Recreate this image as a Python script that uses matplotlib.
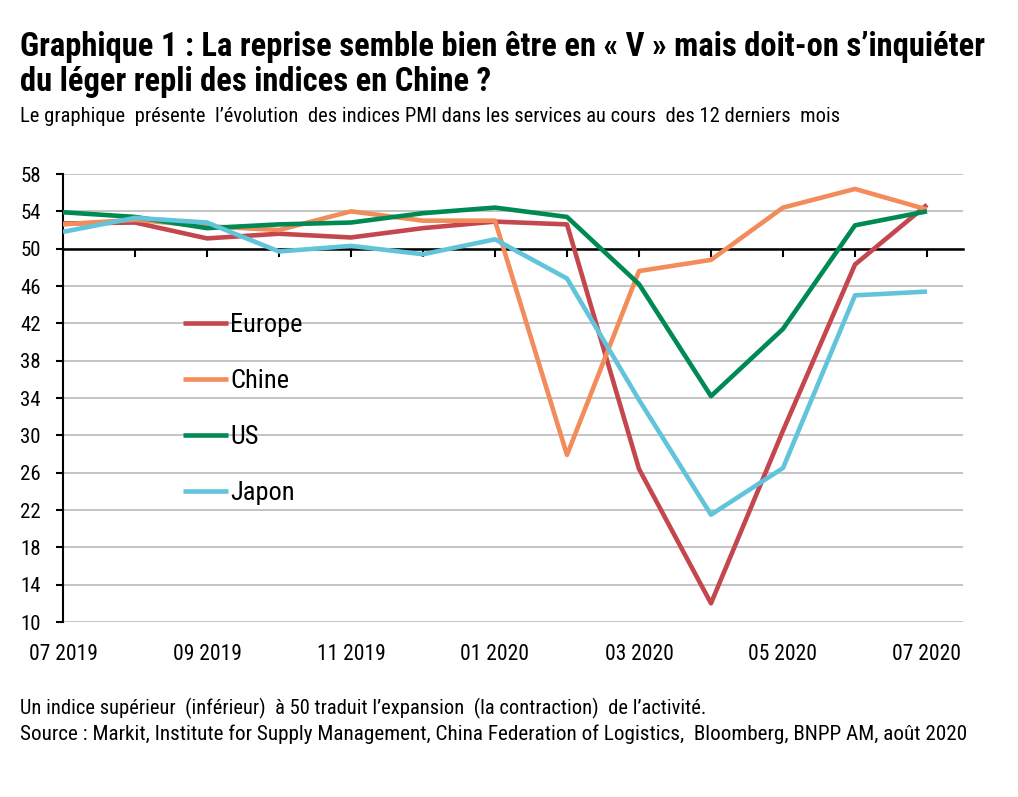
import matplotlib.pyplot as plt
import numpy as np

plt.rcParams['font.family'] = ['Roboto Condensed', 'Liberation Sans', 'DejaVu Sans']

months = ["07 2019", "08 2019", "09 2019", "10 2019", "11 2019", "12 2019", "01 2020",
          "02 2020", "03 2020", "04 2020", "05 2020", "06 2020", "07 2020"]
europe = [52.7, 52.8, 51.1, 51.6, 51.2, 52.2, 52.9, 52.6, 26.4, 12.0, 30.5, 48.3, 54.7]
chine = [52.6, 53.1, 52.4, 52.0, 54.0, 53.0, 53.0, 27.9, 47.6, 48.8, 54.4, 56.4, 54.2]
us = [53.9, 53.4, 52.2, 52.6, 52.8, 53.8, 54.4, 53.4, 46.2, 34.2, 41.4, 52.5, 54.0]
japon = [51.8, 53.3, 52.8, 49.7, 50.3, 49.4, 51.0, 46.8, 33.8, 21.5, 26.5, 45.0, 45.4]

series = {"Europe": (europe, '#C4474E'),
          "Chine": (chine, '#F28C5B'),
          "US": (us, '#008A53'),
          "Japon": (japon, '#62C4DA')}

x = np.arange(len(months))

fig = plt.figure(figsize=(10.18, 7.97), dpi=100)
ax = fig.add_axes([63/1018, 1-622/797, 900/1018, 448/797])

for name, (vals, col) in series.items():
    ax.plot(x, vals, color=col, lw=3.3, label=name, solid_capstyle='butt', zorder=3)

ax.set_xlim(0, 12.5)
ax.set_ylim(10, 58)
ax.set_yticks(np.arange(10, 59, 4))
ax.yaxis.grid(True, color='#BFBFBF', lw=1.3)
ax.set_axisbelow(True)

# l'axe des x coupe à 50
ax.spines['bottom'].set_position(('data', 50))
ax.spines['bottom'].set_linewidth(1.8)
ax.spines['left'].set_linewidth(1.5)
ax.spines['top'].set_visible(False)
ax.spines['right'].set_visible(False)
ax.set_xticks(x)
ax.set_xticklabels([])
ax.tick_params(axis='x', direction='out', length=6, width=1.5)
ax.tick_params(axis='y', direction='out', length=5, width=1.5, labelsize=15, pad=11)

for i in x[::2]:
    ax.text(i, -0.05, months[i], transform=ax.get_xaxis_transform(),
            ha='center', va='top', fontsize=15.5)

ax.legend(loc='upper left', bbox_to_anchor=(0.133, 0.690), frameon=False,
          fontsize=19, handlelength=1.7, handletextpad=0.1, labelspacing=1.22,
          borderpad=0, borderaxespad=0)

fig.text(20/1018, 1-31/797,
         "Graphique 1 : La reprise semble bien être en « V » mais doit-on s’inquiéter\n"
         "du léger repli des indices en Chine ?",
         fontsize=23.5, fontweight='bold', va='top', ha='left', linespacing=1.1)
fig.text(20/1018, 1-116/797,
         "Le graphique  présente  l’évolution  des indices PMI dans les services au cours  des 12 derniers  mois",
         fontsize=14.8, va='center', ha='left')
fig.text(20/1018, 1-708/797,
         "Un indice supérieur  (inférieur)  à 50 traduit l’expansion  (la contraction)  de l’activité.",
         fontsize=14.8, va='center', ha='left')
fig.text(20/1018, 1-734/797,
         "Source : Markit, Institute for Supply Management, China Federation of Logistics,  Bloomberg, BNPP AM, août 2020",
         fontsize=15.2, va='center', ha='left')

fig.savefig('out.png', dpi=100)
